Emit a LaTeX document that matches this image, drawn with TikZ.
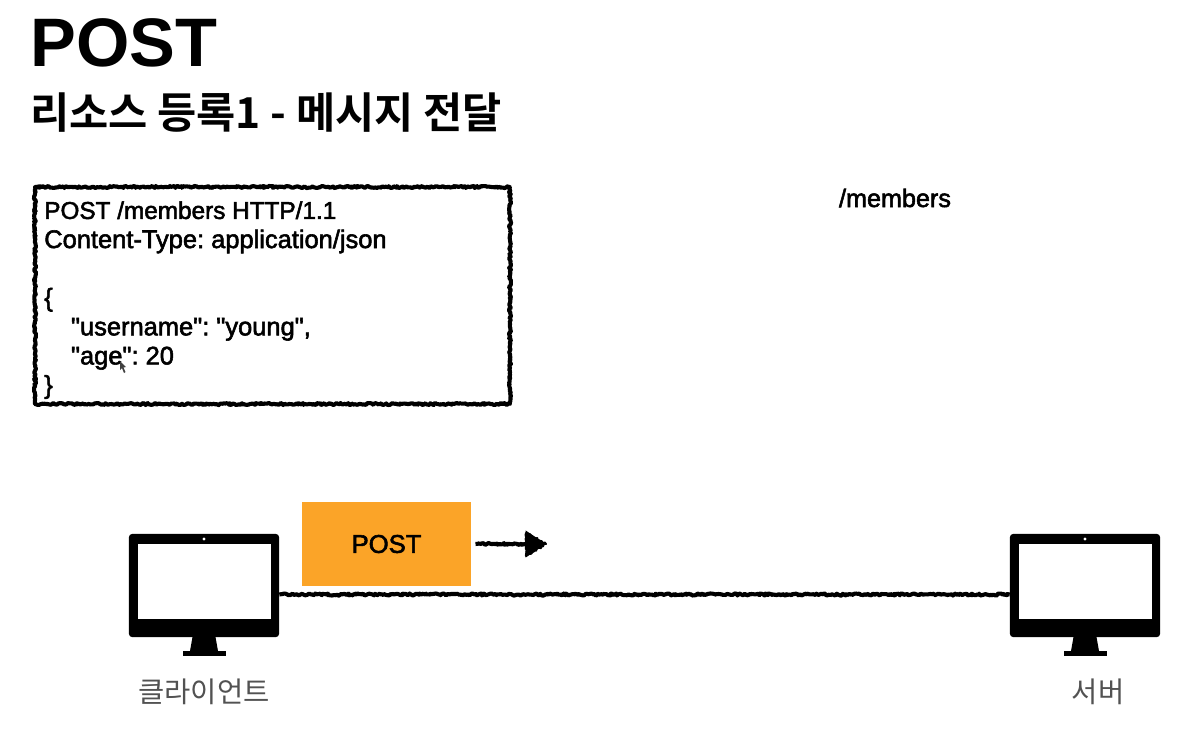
\documentclass[tikz,border=0pt]{standalone}
\usepackage{fontspec}
\setmainfont{Liberation Sans}
\newfontfamily\cjkbold{Noto Sans CJK KR Bold}
\newfontfamily\cjkreg{Noto Sans CJK KR}
\newfontfamily\bodyfont[FakeBold=2.2]{Liberation Sans}
\usetikzlibrary{decorations.pathmorphing}
\usetikzlibrary{arrows.meta}
\definecolor{requestorange}{HTML}{FBA428}
\frenchspacing
\tikzset{
    sketchline/.style={line width=2.9pt, line join=round, decorate, decoration={random steps, segment length=1pt, amplitude=0.75pt}},
    sketcharrow/.style={sketchline, decoration={post length=15pt}, -{Triangle[length=14.5pt,width=18.5pt]}},
    monitorbody/.style={fill=black, rounded corners=2.2pt, minimum width=106.7pt, minimum height=73.3pt, inner sep=0pt},
    caption/.style={text=black!68, font=\cjkreg\fontsize{20.3}{24}\selectfont},
    monitor/.pic={
        \fill[white] (-66.5,-41.5) rectangle (66.5,33.5);
        \fill[white] (0,-46.5) circle (1.7);
        \fill[black] (-11.5,51.5) -- (11.5,51.5) -- (14,65.5) -- (-14,65.5) -- cycle;
        \fill[black] (-21.5,65) rectangle (21.5,70);
    }
}

\begin{document}
\begin{tikzpicture}[x=0.025cm,y=-0.025cm]
    \useasboundingbox (0,0) rectangle (1204,739);
    % --- HEADING ---
    \node[anchor=west,inner sep=0pt] (title) at (30,43) {\fontsize{48.8}{56}\selectfont\bfseries POST};
    \node[anchor=west,inner sep=0pt] (subtitle) at (30,113) {\cjkbold\fontsize{30.3}{36}\selectfont 리소스 등록1 - 메시지 전달};

    % --- MESSAGE BOX ---
    \draw[sketchline] (35,187) rectangle (510,404);
    \node[anchor=north west,inner sep=0pt,align=left,font=\bodyfont\fontsize{18.1}{20.7}\selectfont] (message) at (44,201) {%
        {\fontsize{17.3}{20.7}\selectfont POST /members HTTP/1.1}\\
        Content-Type: application/json\\
        \mbox{}\\
        \{\\
        \hspace*{19pt}"username": "young",\\
        \hspace*{19pt}"age": 20\\
        \}};
    \fill[black!75] (120,361) -- (120,370) -- (122,368) -- (124,373) -- (125.5,372) -- (123.5,367.5) -- (126,367) -- cycle;

    \node[font=\bodyfont\fontsize{17.9}{20}\selectfont] (path) at (895,198) {/members};

    % --- CLIENT AND SERVER ---
    \node[monitorbody] (client) at (204,585.5) {};
    \pic at (client.center) {monitor};
    \node[monitorbody] (server) at (1085,585.5) {};
    \pic at (server.center) {monitor};
    \node[caption] (clientlabel) at (204,692) {클라이언트};
    \node[caption] (serverlabel) at (1098,692) {서버};
    \draw[sketchline] ([yshift=-6.4pt]client.east) -- ([yshift=-6.4pt]server.west);

    % --- REQUEST ---
    \node[fill=requestorange,minimum width=120.2pt,minimum height=59.8pt,inner sep=0pt,font=\bodyfont\fontsize{18.2}{22}\selectfont] (request) at (386.5,544) {POST};
    \coordinate (requestend) at (546,544);
    \draw[sketcharrow] ([xshift=3pt]request.east) -- (requestend);
    \draw[sketchline,line width=1.4pt] (requestend) -- ++(-20,-11) -- ++(0,23) -- cycle;
\end{tikzpicture}
\end{document}
